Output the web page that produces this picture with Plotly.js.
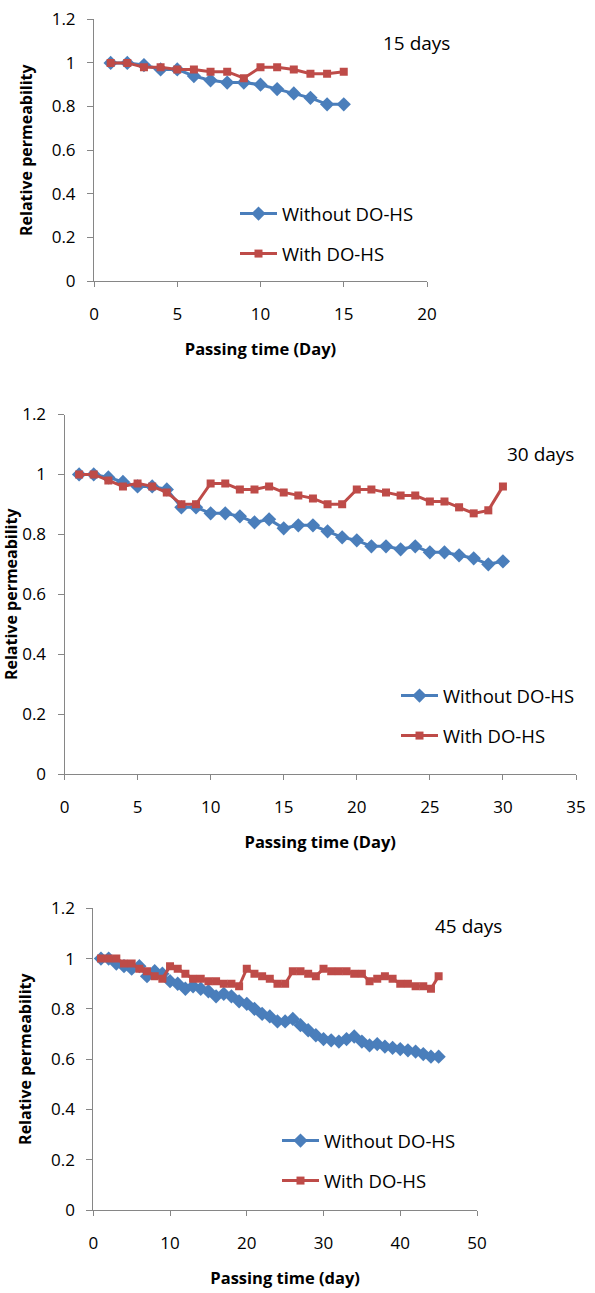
<!DOCTYPE html>
<html>
<head>
<meta charset="utf-8">
<script src="https://cdn.plot.ly/plotly-3.0.1.min.js"></script>
<style>html,body{margin:0;padding:0;background:#fff;}#chart{width:595px;height:1293px;}</style>
</head>
<body>
<div id="chart"></div>
<script>
// ---- Data ----
const days15 = [1,2,3,4,5,6,7,8,9,10,11,12,13,14,15];
const without15 = [1.00,1.00,0.99,0.97,0.97,0.94,0.92,0.91,0.91,0.90,0.88,0.86,0.84,0.81,0.81];
const with15    = [1.00,1.00,0.98,0.98,0.97,0.97,0.96,0.96,0.93,0.98,0.98,0.97,0.95,0.95,0.96];

const days30 = [1,2,3,4,5,6,7,8,9,10,11,12,13,14,15,16,17,18,19,20,21,22,23,24,25,26,27,28,29,30];
const without30 = [1.00,1.00,0.99,0.975,0.96,0.96,0.95,0.89,0.89,0.87,0.87,0.86,0.84,0.85,0.82,0.83,0.83,0.81,0.79,0.78,0.76,0.76,0.75,0.76,0.74,0.74,0.73,0.72,0.70,0.71];
const with30    = [1.00,1.00,0.98,0.96,0.97,0.96,0.94,0.90,0.90,0.97,0.97,0.95,0.95,0.96,0.94,0.93,0.92,0.90,0.90,0.95,0.95,0.94,0.93,0.93,0.91,0.91,0.89,0.87,0.88,0.96];

const days45 = [1,2,3,4,5,6,7,8,9,10,11,12,13,14,15,16,17,18,19,20,21,22,23,24,25,26,27,28,29,30,31,32,33,34,35,36,37,38,39,40,41,42,43,44,45];
const without45 = [1.00,1.00,0.98,0.97,0.96,0.97,0.93,0.95,0.94,0.91,0.90,0.88,0.89,0.88,0.87,0.85,0.86,0.85,0.83,0.82,0.80,0.78,0.77,0.75,0.75,0.76,0.735,0.715,0.695,0.68,0.675,0.67,0.68,0.69,0.67,0.655,0.66,0.65,0.645,0.64,0.635,0.63,0.62,0.61,0.61];
const with45    = [1.00,1.00,1.00,0.98,0.98,0.96,0.95,0.93,0.92,0.97,0.96,0.94,0.92,0.92,0.91,0.91,0.90,0.90,0.89,0.96,0.94,0.93,0.92,0.90,0.90,0.95,0.95,0.94,0.93,0.96,0.95,0.95,0.95,0.94,0.94,0.91,0.92,0.93,0.92,0.90,0.90,0.89,0.89,0.88,0.93];

const seriesNames = ["Without DO-HS", "With DO-HS"];
const panelLabels = ["15 days", "30 days", "45 days"];
const xTitles = ["Passing time (Day)", "Passing time (Day)", "Passing time (day)"];
const yTitle = "Relative permeability";

// ---- Style ----
const W = 595, H = 1293;
const BLUE = "#4a7ebb", RED = "#be4b48";
const FONT = "Open Sans, Noto Sans, sans-serif";
const px = v => v / W;
const py = v => 1 - v / H;

const panels = [
  {x: days15, a: without15, b: with15, xr:[0,20], dt:5, box:[94,427,19.3,281], leg:[235,195], lab:[416,43]},
  {x: days30, a: without30, b: with30, xr:[0,35], dt:5, box:[64.5,576,414.5,774], leg:[396,677], lab:[540,454]},
  {x: days45, a: without45, b: with45, xr:[0,50], dt:10, box:[93.3,477,908.3,1210], leg:[277,1122], lab:[468,926]}
];

const data = [];
const layout = {
  width: W, height: H,
  margin: {l:0, r:0, t:0, b:0},
  paper_bgcolor: "#fff", plot_bgcolor: "#fff",
  showlegend: true,
  font: {family: FONT, color: "#000"},
  annotations: []
};

panels.forEach((p, i) => {
  const n = i + 1;
  const xa = n === 1 ? "x" : "x" + n;
  const ya = n === 1 ? "y" : "y" + n;
  const lg = n === 1 ? "legend" : "legend" + n;
  data.push({
    x: p.x, y: p.a, xaxis: xa, yaxis: ya, type: "scatter", mode: "lines+markers",
    name: seriesNames[0], legend: lg, legendgroup: "a" + n,
    line: {color: BLUE, width: 3},
    marker: {symbol: "diamond", size: 11, color: BLUE}
  });
  data.push({
    x: p.x, y: p.b, xaxis: xa, yaxis: ya, type: "scatter", mode: "lines+markers",
    name: seriesNames[1], legend: lg, legendgroup: "b" + n,
    line: {color: RED, width: 3},
    marker: {symbol: "square", size: 8, color: RED}
  });
  const [l, r, t, b] = p.box;
  layout["xaxis" + (n === 1 ? "" : n)] = {
    domain: [px(l), px(r)], anchor: ya, range: p.xr, dtick: p.dt, tick0: 0,
    showgrid: false, zeroline: false, showline: true, linecolor: "#868686", linewidth: 1,
    ticks: "outside", ticklen: 5, tickcolor: "#868686", ticklabelstandoff: 13,
    tickfont: {size: 17, family: FONT, color: "#000"},
    title: {text: "<b>" + xTitles[i] + "</b>", font: {size: 16.5, family: FONT, color: "#000"}, standoff: 19}
  };
  layout["yaxis" + (n === 1 ? "" : n)] = {
    domain: [py(b), py(t)], anchor: xa, range: [0, 1.2], dtick: 0.2, tick0: 0,
    showgrid: false, zeroline: false, showline: true, linecolor: "#868686", linewidth: 1,
    ticks: "outside", ticklen: 6, tickcolor: "#868686", ticklabelstandoff: 8,
    tickfont: {size: 17, family: FONT, color: "#000"},
    title: {text: "<b>" + yTitle + "</b>", font: {size: 16, family: FONT, color: "#000"}, standoff: 15}
  };
  layout[lg] = {
    x: px(p.leg[0]), y: py(p.leg[1]), xanchor: "left", yanchor: "top",
    bgcolor: "rgba(0,0,0,0)", borderwidth: 0,
    font: {size: 18.5, family: FONT, color: "#000"},
    traceorder: "grouped", tracegroupgap: 13, itemwidth: 37
  };
  layout.annotations.push({
    text: panelLabels[i], xref: "paper", yref: "paper",
    x: px(p.lab[0]), y: py(p.lab[1]), xanchor: "center", yanchor: "middle",
    showarrow: false, font: {size: 19, family: FONT, color: "#000"}
  });
});

Plotly.newPlot("chart", data, layout, {displayModeBar: false, staticPlot: true});
</script>
</body>
</html>
